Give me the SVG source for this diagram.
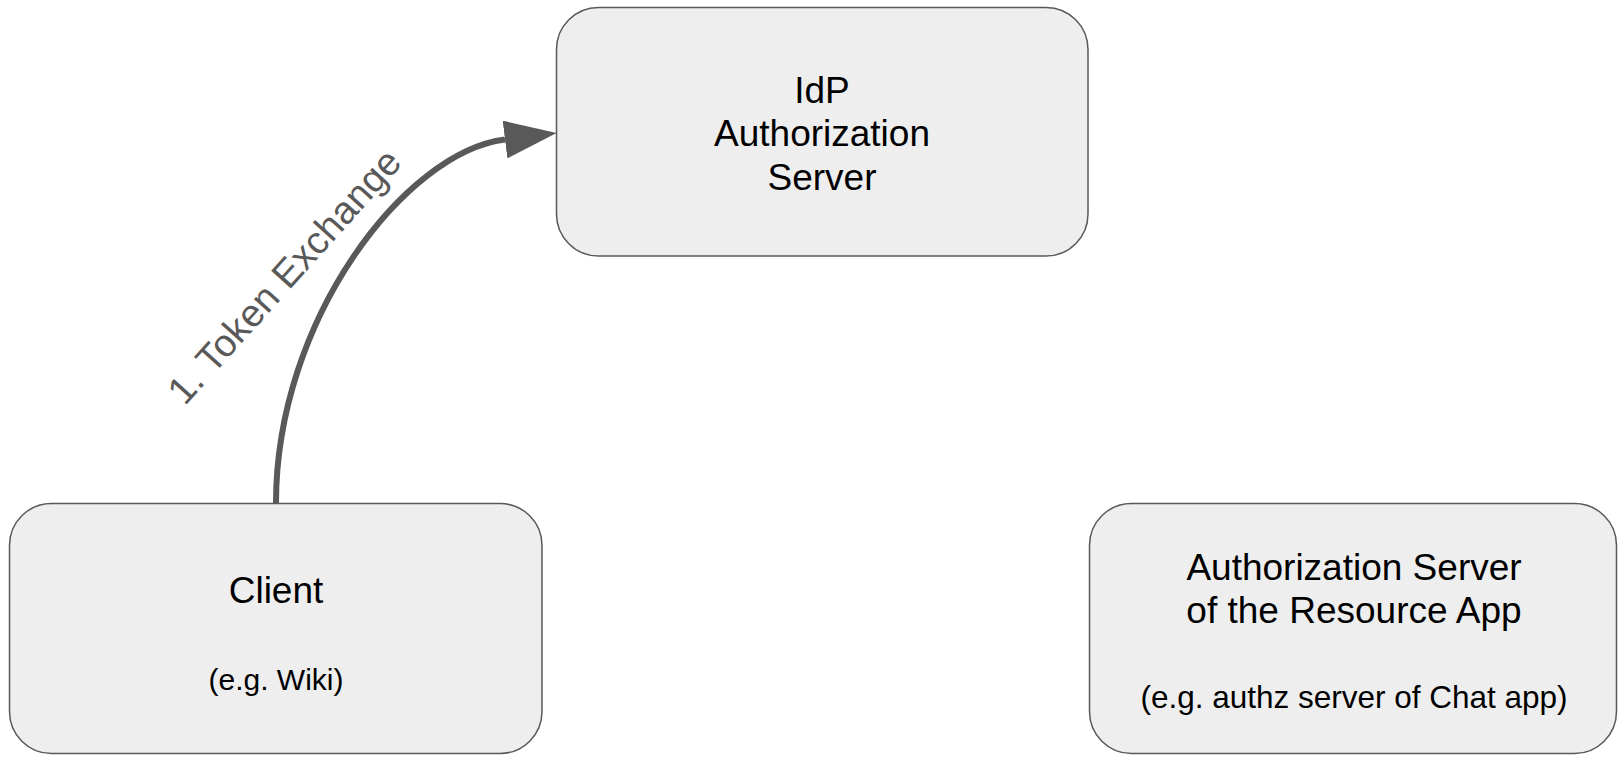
<svg xmlns="http://www.w3.org/2000/svg" width="1619" height="757" viewBox="0 0 1619 757">
<style>
.box{fill:#eeeeee;stroke:#595959;stroke-width:1.5}
.t{font-family:"Liberation Sans",Arial,sans-serif;fill:#000;text-anchor:middle}
.main{font-size:37px}
.sub{font-size:30px}
.sub2{font-size:31.5px}
.lbl{font-family:"Liberation Sans",Arial,sans-serif;fill:#595959;font-size:38.5px;text-anchor:middle}
.conn{fill:none;stroke:#595959;stroke-width:6}
</style>
<defs>
<marker id="ah" markerUnits="userSpaceOnUse" markerWidth="52" markerHeight="38" refX="0" refY="19" orient="auto" viewBox="0 0 52 38">
<path d="M0,0 L52,19 L0,38 Z" fill="#595959"/>
</marker>
</defs>
<rect width="1619" height="757" fill="#ffffff"/>
<g id="idp">
<rect class="box" x="556.5" y="7.5" width="531.5" height="248.5" rx="42"/>
<text class="t main" x="822" y="103">IdP</text>
<text class="t main" x="822" y="146">Authorization</text>
<text class="t main" x="822" y="190">Server</text>
</g>
<g id="client">
<rect class="box" x="9.5" y="503.5" width="532.5" height="250" rx="42"/>
<text class="t main" x="276" y="603">Client</text>
<text class="t sub" x="276" y="690">(e.g. Wiki)</text>
</g>
<g id="resource-as">
<rect class="box" x="1089.5" y="503.5" width="527" height="250" rx="42"/>
<text class="t main" x="1354" y="580">Authorization Server</text>
<text class="t main" x="1354" y="623">of the Resource App</text>
<text class="t sub2" x="1354" y="708">(e.g. authz server of Chat app)</text>
</g>
<g id="connectors">
<path class="conn" d="M276,503 C276,320 405,152 505,139.5" marker-end="url(#ah)"/>
<text class="lbl" transform="translate(284,276) rotate(-48)" dominant-baseline="central">1. Token Exchange</text>
</g>
</svg>
